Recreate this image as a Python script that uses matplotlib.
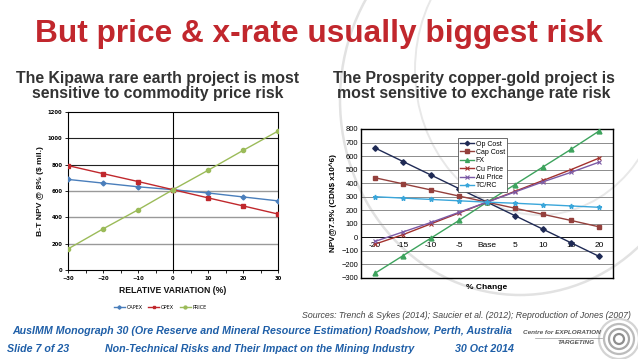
import matplotlib
matplotlib.use("Agg")
import matplotlib.pyplot as plt
from matplotlib.patches import Circle, Ellipse

W, H = 638, 359
fig = plt.figure(figsize=(W/100, H/100), dpi=100)

FONT = 'Liberation Sans'
FOOT = 'Liberation Sans'

# ---------------- data ----------------
left_x = [-30, -20, -10, 0, 10, 20, 30]
capex = [688, 660, 632, 610, 585, 555, 525]
opex = [793, 732, 672, 610, 548, 487, 425]
price = [160, 312, 457, 610, 757, 908, 1055]

right_cats = ['-20', '-15', '-10', '-5', 'Base', '5', '10', '15', '20']
op_cost = [660, 560, 460, 360, 260, 160, 60, -40, -140]
cap_cost = [440, 395, 350, 305, 260, 215, 170, 125, 78]
fx = [-265, -135, -5, 125, 260, 390, 520, 650, 785]
cu_price = [-50, 20, 100, 180, 260, 340, 420, 500, 585]
au_price = [-30, 40, 110, 185, 260, 335, 410, 480, 555]
tcrc = [300, 290, 280, 270, 260, 252, 242, 232, 222]

def ax_px(x0, y0, x1, y1):
    return fig.add_axes([x0/W, 1 - y1/H, (x1-x0)/W, (y1-y0)/H])

# background faint arcs
bg = fig.add_axes([0, 0, 1, 1], zorder=-5)
bg.set_xlim(0, W); bg.set_ylim(H, 0); bg.axis('off')
bg.add_patch(Ellipse((520, 100), 360, 390, fill=False, ec='#e2e2e2', lw=1.8))
bg.add_patch(Ellipse((540, 70), 250, 290, fill=False, ec='#e8e8e8', lw=1.4))

# ---------------- title & subtitles ----------------
fig.text(319/W, 1 - 34/H, 'But price & x-rate usually biggest risk', ha='center', va='center',
         color='#C1272D', fontsize=22.8, fontweight='bold', family=FONT)
fig.text(158/W, 1 - 86/H, 'The Kipawa rare earth project is most\nsensitive to commodity price risk',
         ha='center', va='center', color='#333333', fontsize=11.4, fontweight='bold',
         family=FONT, linespacing=0.95)
fig.text(474/W, 1 - 86/H, 'The Prosperity copper-gold project is\nmost sensitive to exchange rate risk',
         ha='center', va='center', color='#333333', fontsize=11.4, fontweight='bold',
         family=FONT, linespacing=0.95)

# ---------------- left chart ----------------
ax = ax_px(68, 112, 278, 270)
ax.set_xlim(-30, 30); ax.set_ylim(0, 1200)
for yv in [200, 400, 600]:
    ax.axhline(yv, color='#999999', lw=1.0, zorder=0)
for yv in [800, 1000]:
    ax.axhline(yv, color='#222222', lw=0.8, zorder=0)
ax.axvline(0, color='black', lw=0.8, zorder=1)
ax.plot(left_x, capex, color='#4A7EBB', marker='D', ms=2.5, lw=1, label='CAPEX', zorder=3)
ax.plot(left_x, opex, color='#C0282D', marker='s', ms=2.8, lw=1, label='OPEX', zorder=3)
ax.plot(left_x, price, color='#9BBB59', marker='o', ms=3, lw=1, label='PRICE', zorder=3)
ax.set_xticks([-30, -20, -10, 0, 10, 20, 30])
ax.set_xticks([-25, -15, -5, 5, 15, 25], minor=True)
ax.set_yticks(range(0, 1201, 200))
ax.tick_params(labelsize=3.8, length=2, width=0.6, pad=2)
ax.tick_params(which='minor', length=2, width=0.6)
for lab in ax.get_xticklabels() + ax.get_yticklabels():
    lab.set_fontweight('bold')
for s in ax.spines.values():
    s.set_linewidth(0.8)
ax.set_xlabel('RELATIVE VARIATION (%)', fontsize=6.2, fontweight='bold', labelpad=4,
              color='#111111', family=FONT)
ax.set_ylabel('B-T NPV @ 8% ($ mil.)', fontsize=6.1, fontweight='bold', labelpad=3,
              color='#111111', family=FONT)
ax.legend(loc='center', bbox_to_anchor=(0.44, -0.235), ncol=3, fontsize=3.5, frameon=False,
          handlelength=2.2, columnspacing=1.2, handletextpad=0.4, markerscale=0.7)

# ---------------- right chart ----------------
ar = ax_px(361, 129, 613, 278)
ar.set_facecolor('none')
xs = list(range(len(right_cats)))
ar.set_xlim(-0.5, len(right_cats) - 0.5); ar.set_ylim(-300, 800)
ar.set_yticks(range(-300, 801, 100))
ar.grid(axis='y', color='#8c8c8c', lw=0.7, zorder=0)
ar.set_axisbelow(True)
ar.plot(xs, op_cost, color='#1F2A55', marker='D', ms=2.8, lw=1, label='Op Cost', zorder=3)
ar.plot(xs, cap_cost, color='#94403C', marker='s', ms=3.2, lw=1, label='Cap Cost', zorder=3)
ar.plot(xs, fx, color='#3DA35D', marker='^', ms=3.5, lw=1, label='FX', zorder=3)
ar.plot(xs, cu_price, color='#A3322E', marker='x', ms=3.5, mew=0.8, lw=1, label='Cu Price', zorder=3)
ar.plot(xs, au_price, color='#7B5AA6', marker='x', ms=3.5, mew=0.8, lw=1, label='Au Price', zorder=3)
ar.plot(xs, tcrc, color='#3AA6DA', marker='*', ms=3.5, lw=1, label='TC/RC', zorder=3)
ar.spines['bottom'].set_position(('data', 0))
ar.spines['bottom'].set_linewidth(0.6)
ar.axhline(-300, color='black', lw=1.0, clip_on=False)
ar.set_xticks(xs)
ar.set_xticklabels(right_cats, family=FONT)
ar.tick_params(axis='x', length=0, labelsize=6.0, pad=3)
ar.tick_params(axis='y', length=0, labelsize=5.4, pad=2)
for lab in ar.get_yticklabels():
    lab.set_family(FONT)
for k in ['left', 'right', 'top']:
    ar.spines[k].set_linewidth(1.0)
ar.set_ylabel('NPV@7.5% (CDN$ x10^6)', fontsize=5.9, fontweight='bold', labelpad=3, family=FONT)
ar.text(0.5, -0.04, '% Change', transform=ar.transAxes, ha='center', va='top',
        fontsize=6.0, fontweight='bold', family=FONT)
leg = ar.legend(loc='upper left', bbox_to_anchor=(0.37, 0.96), frameon=True,
                fancybox=False, edgecolor='#555555', framealpha=1, handlelength=2,
                borderpad=0.3, labelspacing=0.2, handletextpad=0.3, markerscale=0.8,
                prop={'family': FONT, 'size': 5.0})
leg.get_frame().set_linewidth(0.6)

# ---------------- footer ----------------
fig.text(631/W, 1 - 316/H, 'Sources: Trench & Sykes (2014); Saucier et al. (2012); Reproduction of Jones (2007)',
         ha='right', va='center', fontsize=6.3, style='italic', color='#444444', family=FOOT)
blue = '#1F5FA8'
kw = dict(va='center', fontsize=7.7, style='italic', fontweight='bold', color=blue, family=FONT)
fig.text(12/W, 1 - 331/H, 'AusIMM Monograph 30 (Ore Reserve and Mineral Resource Estimation) Roadshow, Perth, Australia',
         ha='left', **kw)
fig.text(7/W, 1 - 349/H, 'Slide 7 of 23', ha='left', **kw)
fig.text(105/W, 1 - 349/H, 'Non-Technical Risks and Their Impact on the Mining Industry', ha='left', **kw)
fig.text(455/W, 1 - 349/H, '30 Oct 2014', ha='left', **kw)

# logo
fig.text(601/W, 1 - 333/H, 'Centre for EXPLORATION', ha='right', va='center', fontsize=4.6,
         style='italic', fontweight='bold', color='#555555', family=FOOT)
fig.text(595/W, 1 - 343/H, 'TARGETING', ha='right', va='center', fontsize=4.6,
         style='italic', fontweight='bold', color='#555555', family=FOOT)
bg.plot([535, 602], [337.5, 337.5], color='#999999', lw=0.5)
for r, c in [(20, '#d4d4d4'), (15, '#bcbcbc'), (10, '#a6a6a6'), (5, '#8e8e8e')]:
    bg.add_patch(Circle((619, 339), r, fill=False, ec=c, lw=1.6))

fig.savefig('out.png', dpi=100)
